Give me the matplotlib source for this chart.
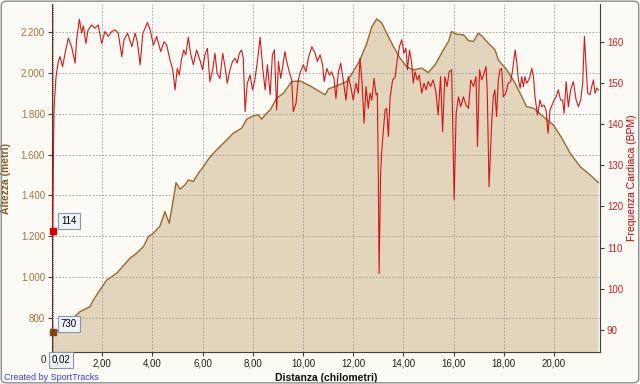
import matplotlib
matplotlib.use("Agg")
import matplotlib.pyplot as plt
from matplotlib.patches import FancyBboxPatch
from matplotlib.ticker import FuncFormatter

plt.rcParams['font.family'] = ['Liberation Sans', 'DejaVu Sans']

# altitude profile (km, m)
elev_km = [0.0, 0.05, 0.32, 1.12, 1.51, 1.65, 1.91, 2.18, 2.58, 3.11,
           3.37, 3.64, 3.84, 4.04, 4.30, 4.50, 4.67, 4.83, 4.94, 5.10,
           5.30, 5.43, 5.63, 5.83, 6.03, 6.23, 6.49, 6.76, 6.96, 7.22,
           7.56, 7.76, 8.02, 8.22, 8.35, 8.55, 8.69, 8.95, 9.22, 9.55,
           9.88, 10.28, 10.88, 11.01, 11.34, 11.74, 12.00, 12.27, 12.54, 12.74,
           12.94, 13.14, 13.33, 13.60, 13.86, 14.13, 14.39, 14.73, 14.99, 15.26,
           15.59, 15.79, 15.92, 16.12, 16.39, 16.59, 16.79, 16.98, 17.12, 17.38,
           17.65, 17.78, 18.12, 18.45, 18.91, 19.18, 19.57, 19.97, 20.31, 20.64,
           21.04, 21.43, 21.77]
elev_m = [730, 730, 741, 831, 855, 888, 937, 986, 1019, 1093,
          1117, 1149, 1198, 1215, 1250, 1321, 1264, 1378, 1463, 1431,
          1452, 1476, 1468, 1509, 1541, 1578, 1615, 1648, 1672, 1705,
          1730, 1774, 1790, 1795, 1774, 1803, 1819, 1877, 1901, 1958,
          1961, 1937, 1893, 1922, 1937, 1958, 2007, 2064, 2146, 2227,
          2265, 2244, 2195, 2130, 2073, 2031, 2015, 2024, 2002, 2040,
          2113, 2154, 2203, 2190, 2187, 2159, 2154, 2195, 2182, 2146,
          2113, 2064, 2015, 1950, 1835, 1828, 1786, 1746, 1681, 1607,
          1541, 1501, 1463]

# heart rate (km, bpm)
hr_km = [0.02, 0.08, 0.16, 0.25, 0.32, 0.42, 0.52, 0.58, 0.65, 0.78,
         0.92, 0.98, 1.09, 1.18, 1.25, 1.35, 1.44, 1.58, 1.71, 1.84,
         1.98, 2.11, 2.24, 2.38, 2.51, 2.64, 2.78, 2.87, 3.01, 3.18,
         3.31, 3.40, 3.51, 3.62, 3.71, 3.80, 3.91, 4.04, 4.17, 4.33,
         4.46, 4.57, 4.70, 4.81, 4.90, 4.99, 5.07, 5.16, 5.25, 5.33,
         5.43, 5.52, 5.63, 5.76, 5.89, 6.00, 6.09, 6.19, 6.29, 6.40,
         6.49, 6.58, 6.69, 6.80, 6.89, 6.98, 7.09, 7.19, 7.29, 7.38,
         7.46, 7.55, 7.62, 7.69, 7.78, 7.89, 7.99, 8.08, 8.19, 8.29,
         8.40, 8.49, 8.58, 8.69, 8.78, 8.86, 8.95, 9.02, 9.11, 9.19,
         9.28, 9.35, 9.45, 9.55, 9.61, 9.72, 9.81, 9.90, 10.01, 10.12,
         10.21, 10.35, 10.48, 10.57, 10.68, 10.78, 10.84, 10.95, 11.05, 11.14,
         11.23, 11.31, 11.41, 11.50, 11.60, 11.71, 11.80, 11.90, 12.00, 12.11,
         12.20, 12.27, 12.35, 12.43, 12.51, 12.60, 12.67, 12.74, 12.83, 12.91,
         12.96, 13.00, 13.03, 13.09, 13.13, 13.19, 13.27, 13.33, 13.40, 13.47,
         13.57, 13.67, 13.76, 13.84, 13.93, 14.02, 14.10, 14.16, 14.24, 14.33,
         14.39, 14.46, 14.55, 14.63, 14.73, 14.82, 14.90, 14.99, 15.08, 15.18,
         15.29, 15.38, 15.48, 15.56, 15.65, 15.74, 15.82, 15.92, 16.02, 16.10,
         16.19, 16.28, 16.39, 16.49, 16.59, 16.68, 16.79, 16.89, 16.95, 17.03,
         17.12, 17.21, 17.29, 17.34, 17.41, 17.52, 17.58, 17.64, 17.71, 17.78,
         17.84, 17.91, 17.98, 18.08, 18.17, 18.27, 18.35, 18.45, 18.51, 18.58,
         18.65, 18.71, 18.78, 18.84, 18.91, 19.02, 19.11, 19.18, 19.24, 19.34,
         19.44, 19.51, 19.60, 19.68, 19.76, 19.84, 19.92, 20.00, 20.08, 20.17,
         20.26, 20.34, 20.40, 20.48, 20.57, 20.66, 20.77, 20.88, 20.97, 21.06,
         21.14, 21.21, 21.28, 21.34, 21.43, 21.50, 21.57, 21.63, 21.70, 21.77]
hr_bpm = [114, 143.5, 151.6, 155.3, 156.5, 154, 157.3, 158.9, 161, 158.9,
          154.9, 160.6, 165.6, 162.2, 164, 159.7, 163, 164.2, 163.4, 164.2,
          159.7, 162.6, 161.4, 162.6, 163, 162.2, 156.5, 160.6, 162.2, 158.9,
          162.2, 160.1, 154.5, 162.2, 163.4, 164.8, 163, 159.3, 161.4, 157.7,
          160.1, 159.3, 155.7, 153.3, 148.4, 153.6, 152, 155.9, 158.1, 156.9,
          161.2, 157.3, 154.5, 158.1, 155.7, 153.3, 156.9, 158.5, 150.4, 153.3,
          157.3, 152.4, 151.2, 157.3, 154.1, 150.0, 153.3, 155.3, 156.1, 154.9,
          157.3, 158.1, 156.1, 143.1, 150.0, 152, 148.4, 150.8, 155.7, 161.2,
          153.3, 148.4, 154.5, 147.2, 156.9, 158.1, 143.5, 155.3, 151.2, 154.1,
          157.7, 155.3, 152.8, 150.8, 143.1, 145.1, 150.8, 152.8, 154.5, 152.8,
          156.1, 158.9, 157.3, 155.3, 156.9, 154.5, 150.4, 153.6, 152, 152.8,
          151.2, 146.3, 152.8, 154.9, 150.8, 145.9, 151.6, 149.2, 145.9, 150,
          147.6, 156.1, 150.4, 140.3, 149.2, 143.9, 147.6, 145.9, 151.2, 147.2,
          147.6, 126.5, 103.7, 128, 133, 137.8, 143.5, 143.9, 137, 146.7,
          150.8, 151.6, 156.1, 158.9, 160.6, 157.3, 158.5, 153.3, 158.1, 154.9,
          150, 152.8, 150.8, 152, 147.6, 150, 148.4, 150.4, 149.2, 150.8,
          148, 142.3, 151.6, 138.2, 151.6, 149.2, 152.8, 153.3, 121.6, 142.7,
          146.7, 144.3, 146.7, 144.7, 143.9, 150.8, 149.2, 151.6, 134.6, 153.3,
          150.8, 152.4, 154.1, 147.6, 124.8, 141, 146.7, 148.4, 141.9, 150.8,
          153.3, 153.6, 146.7, 147.6, 150, 150.4, 153.3, 158.1, 155.3, 150.8,
          148.8, 151.6, 149.2, 151.6, 150, 151.2, 153.6, 151.6, 146.7, 142.3,
          145.9, 144.3, 144.7, 143.5, 137.8, 143.5, 144.7, 145.9, 146.7, 148.4,
          145.9, 145.9, 142.7, 150.4, 144.3, 148.4, 150.4, 145.9, 144.3, 145.9,
          150, 161.4, 153.6, 147.6, 147.2, 149.2, 150.8, 147.6, 148.8, 148.4]

x_ticks = [0, 2, 4, 6, 8, 10, 12, 14, 16, 18, 20]
elev_ticks = [800, 1000, 1200, 1400, 1600, 1800, 2000, 2200]
hr_ticks = [90, 100, 110, 120, 130, 140, 150, 160]
cursor_km = 0.02

bg = '#FBFAF5'
brown = '#9A6A2C'
red = '#D40000'


def km_fmt(v, p):
    # the 0 tick is partly hidden behind the cursor box, drawn separately
    if v == 0:
        return ""
    return f"{v:.2f}".replace('.', ',')


fig = plt.figure(figsize=(6.4, 3.84), dpi=100, facecolor=bg)
ax = fig.add_axes([52 / 640, 32 / 384, 548 / 640, 348 / 384])
ax.set_facecolor(bg)

ax.fill_between(elev_km, elev_m, 0, color='#E3D4BC', lw=0, zorder=1)
ax.plot(elev_km, elev_m, color=brown, lw=1.0, zorder=3)
ax.set_xlim(0, 21.83)
ax.set_ylim(633, 2338)
ax.set_xticks(x_ticks)
ax.xaxis.set_major_formatter(FuncFormatter(km_fmt))
ax.set_yticks(elev_ticks)
ax.yaxis.set_major_formatter(FuncFormatter(lambda v, p: f"{int(v):,}".replace(',', '.')))
ax.grid(True, ls=(0, (2, 2)), color='#9A9A9A', lw=0.6, zorder=2)
ax.tick_params(axis='x', labelsize=7, length=3, colors='#404040', labelcolor='#202020', pad=2)
ax.tick_params(axis='y', labelsize=7, length=3, colors='#404040', labelcolor='#A0743C', pad=2)
ax.set_xlabel("Distanza (chilometri)", fontsize=7.5, fontweight='bold', color='#101010', labelpad=3)
ax.set_ylabel("Altezza (metri)", fontsize=7.5, fontweight='bold', color='#8B5A1E')
ax.yaxis.set_label_coords(-0.075, 0.5)
for s in ['top', 'right']:
    ax.spines[s].set_visible(False)
for s in ['left', 'bottom']:
    ax.spines[s].set_color('#404040')

ax2 = ax.twinx()
ax2.plot(hr_km, hr_bpm, color=red, lw=0.8, alpha=0.9, zorder=3)
ax2.axvline(cursor_km, color=red, lw=0.6, ls=(0, (1, 1.5)))
ax2.set_ylim(84.57, 169.3)
ax2.set_yticks(hr_ticks)
ax2.tick_params(axis='y', labelsize=7, length=3, colors='#404040', labelcolor='#D02020', pad=2)
ax2.set_ylabel("Frequenza Cardiaca (BPM)", fontsize=7.5, color='#D00000')
ax2.yaxis.set_label_coords(1.049, 0.5)
for s in ['top', 'left', 'bottom']:
    ax2.spines[s].set_visible(False)
ax2.spines['right'].set_color('#404040')

# cursor markers and value boxes
box = dict(boxstyle='square,pad=0.3', fc='#EEF4FA', ec='#8498AC', lw=0.8)
ax2.plot([cursor_km], [hr_bpm[0]], marker='s', ms=4, color=red, zorder=5, clip_on=False)
ax.plot([cursor_km], [elev_m[0]], marker='s', ms=4, color='#7A4A10', zorder=5, clip_on=False)
ax2.annotate(f"{int(hr_bpm[0])}", (cursor_km, hr_bpm[0]), xytext=(16.5, 10),
             textcoords='offset pixels', ha='center', va='center', fontsize=7, bbox=box, zorder=6)
ax.annotate(f"{elev_m[0]}", (cursor_km, elev_m[0]), xytext=(16.5, 8),
            textcoords='offset pixels', ha='center', va='center', fontsize=7, bbox=box, zorder=6)
fig.text(46 / 640, 1 - 360 / 384, "0", ha='right', va='center', fontsize=7, color='#202020')
fig.text(61 / 640, 1 - 360 / 384, "0,02", ha='center', va='center', fontsize=7, bbox=box)

fig.text(4 / 640, 1 - 377 / 384, "Created by SportTracks", ha='left', va='center',
         fontsize=6.5, color='#3C3CF0')

fig.patches.append(FancyBboxPatch((0.002, 0.003), 0.996, 0.994,
                                  boxstyle='round,pad=0,rounding_size=0.01',
                                  transform=fig.transFigure, fc='none', ec='#8C8C8C', lw=1))

fig.savefig("out.png", dpi=100, facecolor=bg)
